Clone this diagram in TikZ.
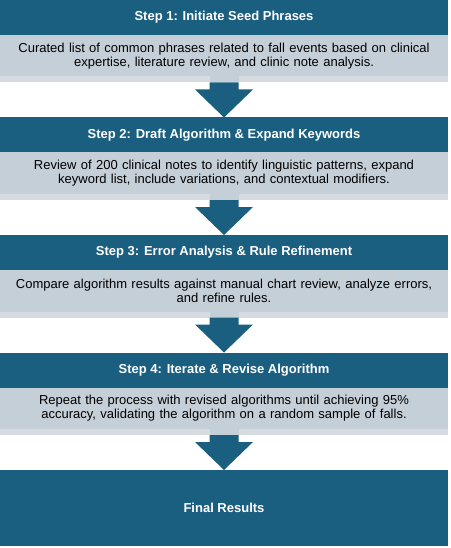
\documentclass[tikz,border=0pt]{standalone}
\usepackage{fontspec}
\setmainfont{Liberation Sans}
\usetikzlibrary{positioning}
\usetikzlibrary{calc}

\definecolor{stepblue}{RGB}{27,95,128}
\definecolor{bodygray}{RGB}{197,207,216}
\definecolor{stripgray}{RGB}{214,219,225}

\tikzset{
  header/.style={fill=stepblue, text=white, font=\bfseries\fontsize{13}{15}\selectfont,
    minimum width=448pt, minimum height=35pt, inner sep=0pt, outer sep=0pt},
  body/.style={fill=bodygray, font=\fontsize{13}{14}\selectfont, text width=440pt, align=center,
    minimum width=448pt, minimum height=41.5pt, inner xsep=4pt, inner ysep=0pt, outer sep=0pt},
  strip/.style={fill=stripgray, minimum width=448pt, minimum height=6pt, inner sep=0pt, outer sep=0pt},
}

\begin{document}
\begin{tikzpicture}
  \useasboundingbox (0,0) rectangle (450pt,-548pt);

  \node[header, anchor=north] (h1) at (224pt,0) {Step 1: Initiate Seed Phrases};
  \node[body, below=0pt of h1] (b1) {Curated list of common phrases related to fall events based on clinical\\expertise, literature review, and clinic note analysis.};
  \node[strip, below=0pt of b1] (s1) {};

  \node[header, below=35pt of s1] (h2) {Step 2: Draft Algorithm \& Expand Keywords};
  \node[body, below=0pt of h2] (b2) {Review of 200 clinical notes to identify linguistic patterns, expand\\keyword list, include variations, and contextual modifiers.};
  \node[strip, below=0pt of b2] (s2) {};

  \node[header, below=35pt of s2] (h3) {Step 3: Error Analysis \& Rule Refinement};
  \node[body, below=0pt of h3] (b3) {Compare algorithm results against manual chart review, analyze errors,\\and refine rules.};
  \node[strip, below=0pt of b3] (s3) {};

  \node[header, below=35pt of s3] (h4) {Step 4: Iterate \& Revise Algorithm};
  \node[body, below=0pt of h4] (b4) {Repeat the process with revised algorithms until achieving 95\%\\accuracy, validating the algorithm on a random sample of falls.};
  \node[strip, below=0pt of b4] (s4) {};

  \node[header, minimum height=76pt, below=35pt of s4] (fin) {Final Results};

  % block arrows between the steps
  \foreach \s/\h in {s1/h2, s2/h3, s3/h4, s4/fin} {
    \fill[bodygray] ($(\s.north)+(-14.5pt,0)$) rectangle ($(\s.south)+(14.5pt,0)$);
    \fill[stepblue] ($(\s.south)+(-14.5pt,0)$) -- ++(0,-7pt) -- ++(-14.5pt,0) -- (\h.north)
      -- ($(\s.south)+(29pt,-7pt)$) -- ++(-14.5pt,0) -- ($(\s.south)+(14.5pt,0)$) -- cycle;
  }
\end{tikzpicture}
\end{document}
